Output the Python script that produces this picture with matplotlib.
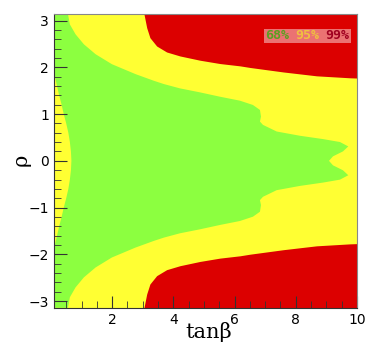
import numpy as np
import matplotlib.pyplot as plt
from matplotlib.ticker import MultipleLocator

# upper half of the 68% (green) region, right edge: (tanb, rho)
green_x = [0.556, 0.62, 0.807, 1.078, 1.461, 1.993, 2.768, 3.366, 3.693, 4.216,
           4.869, 5.523, 6.176, 6.601, 6.83, 6.863, 6.83, 6.928, 7.376, 8.137,
           8.889, 9.444, 9.716, 9.542, 9.216, 9.085]
green_y = [3.1416, 2.916, 2.704, 2.491, 2.279, 2.066, 1.853, 1.711, 1.641, 1.549,
           1.464, 1.371, 1.286, 1.194, 1.088, 0.946, 0.84, 0.769, 0.627, 0.536,
           0.465, 0.402, 0.308, 0.202, 0.096, 0.0]

# thin 95% sliver along the left axis (upper half)
sliver_x = [0.1, 0.13, 0.2, 0.27, 0.35, 0.42, 0.5, 0.57, 0.62, 0.655, 0.67]
sliver_y = [2.0, 1.8, 1.6, 1.4, 1.2, 1.0, 0.8, 0.6, 0.4, 0.2, 0.0]

# 99% (red) region, lower edge of the upper patch
red_x = [3.04, 3.13, 3.235, 3.454, 3.78, 4.216, 4.869, 5.52, 6.18, 6.503,
         7.59, 8.68, 9.77, 10.0]
red_y = [3.1416, 2.846, 2.633, 2.455, 2.327, 2.242, 2.151, 2.08, 2.03, 1.996,
         1.90, 1.817, 1.775, 1.77]

levels = ['68%', '95%', '99%']
level_colors = ['#5aa020', '#f0c040', '#a00020']

xmin, xmax = 0.1, 10.0
ymin, ymax = -np.pi, np.pi

c_green = '#8cff40'
c_yellow = '#ffff33'
c_red = '#dc0000'

fig = plt.figure(figsize=(3.91, 3.47), dpi=100)
ax = fig.add_axes([0.138, 0.113, 0.775, 0.847])
ax.set_facecolor(c_yellow)

# green polygon: top edge -> right boundary down and mirrored -> left sliver back up
gx = np.array(green_x)
gy = np.array(green_y)
sx = np.array(sliver_x)
sy = np.array(sliver_y)
px = np.concatenate([[xmin], gx, gx[::-1][1:], [xmin], sx, sx[::-1][1:], [xmin]])
py = np.concatenate([[ymax], gy, -gy[::-1][1:], [ymin], -sy, sy[::-1][1:], [ymax]])
ax.fill(px, py, color=c_green, lw=0)

rx = np.array(red_x)
ry = np.array(red_y)
ax.fill_between(rx, ry, ymax, color=c_red, lw=0)
ax.fill_between(rx, -ry, ymin, color=c_red, lw=0)

ax.set_xlim(xmin, xmax)
ax.set_ylim(ymin, ymax)
ax.xaxis.set_major_locator(MultipleLocator(2))
ax.xaxis.set_minor_locator(MultipleLocator(0.5))
ax.yaxis.set_major_locator(MultipleLocator(1))
ax.yaxis.set_minor_locator(MultipleLocator(0.2))
ax.tick_params(which='both', direction='in', top=False, right=False,
               labelsize=10, color='#333333')
ax.tick_params(which='major', length=9)
ax.tick_params(which='minor', length=5)
for s in ax.spines.values():
    s.set_color('#888888')
ax.spines['left'].set_color('#333333')
ax.spines['bottom'].set_color('#333333')

fig.text(0.535, 0.026, 'tanβ', fontsize=15, family='DejaVu Serif',
         ha='center', va='baseline')
fig.text(0.053, 0.539, 'ρ', fontsize=15, family='DejaVu Serif',
         rotation=90, ha='center', va='center')

# legend box with the three confidence levels
box = plt.Rectangle((0.693, 0.901), 0.288, 0.048, transform=ax.transAxes,
                    facecolor='white', alpha=0.45, edgecolor='none')
ax.add_patch(box)
for xf, lab, col in zip([0.738, 0.836, 0.934], levels, level_colors):
    ax.text(xf, 0.925, lab, transform=ax.transAxes, color=col, fontsize=9.5,
            family='DejaVu Sans Mono', fontweight='bold', ha='center', va='center')

fig.savefig('out.png', dpi=100)
